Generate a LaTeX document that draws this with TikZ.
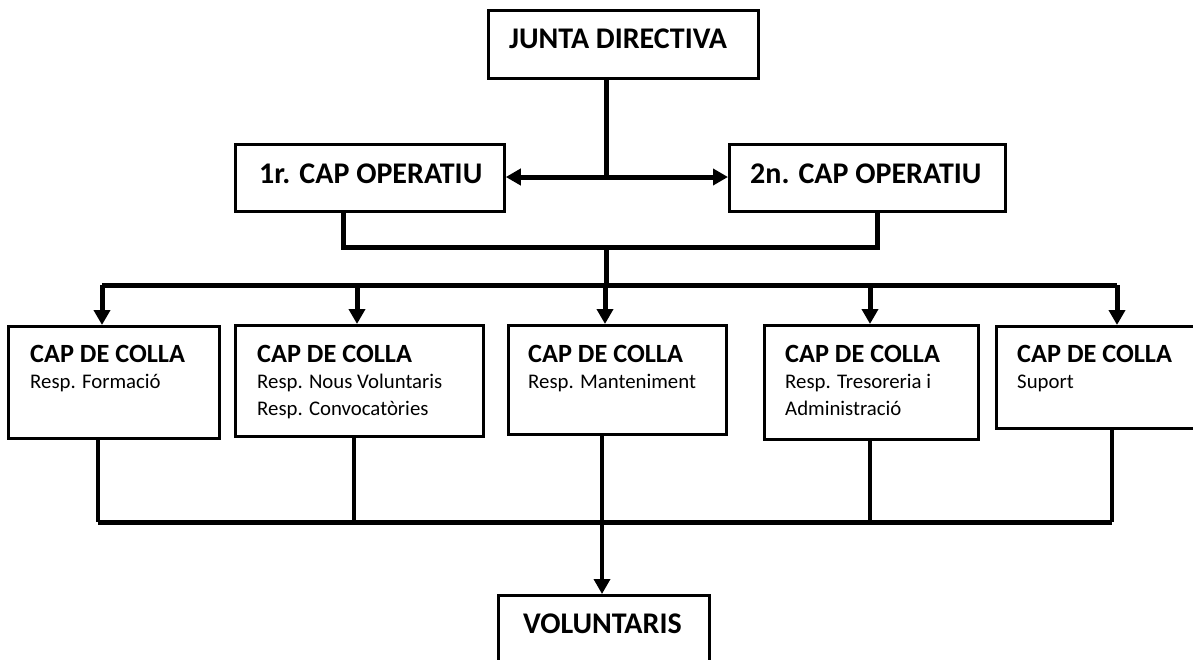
\documentclass[tikz,border=0pt]{standalone}
\usepackage{fontspec}
\setmainfont{Carlito}
\usetikzlibrary{arrows.meta}
\tikzset{
  box/.style={draw=black, line width=2.8pt, fill=white, inner sep=0pt, anchor=north west},
  big/.style={font=\fontsize{30}{32}\selectfont\bfseries, anchor=base west, inner sep=0pt},
  hd/.style={font=\fontsize{26.3}{27}\selectfont\bfseries, anchor=base west, inner sep=0pt},
  sub/.style={font=\fontsize{20.8}{27}\selectfont, anchor=base west, inner sep=0pt},
  conn/.style={line width=5pt},
  thin conn/.style={line width=3.5pt},
  tip/.tip={Triangle[length=15pt,width=16pt]},
}
\begin{document}
\begin{tikzpicture}[x=1pt,y=-1pt]
\clip (0,0) rectangle (1193,659);
\fill[white] (0,0) rectangle (1193,659);
% boxes
\node[box, minimum width=270pt, minimum height=68pt] (j) at (487,9) {};
\node[box, minimum width=269pt, minimum height=67pt] (op1) at (234,143) {};
\node[box, minimum width=276pt, minimum height=67pt] (op2) at (728,143) {};
\node[box, minimum width=211pt, minimum height=112pt] (c1) at (7,325) {};
\node[box, minimum width=248pt, minimum height=111pt] (c2) at (234,324) {};
\node[box, minimum width=218pt, minimum height=109pt] (c3) at (507,324) {};
\node[box, minimum width=214pt, minimum height=114pt] (c4) at (763,324) {};
\node[box, minimum width=220pt, minimum height=102pt] (c5) at (995,325) {};
\node[box, minimum width=211pt, minimum height=90pt] (v) at (497,594) {};
% texts
\node[big] (jt) at (509,48) {JUNTA DIRECTIVA};
\node[big] (o1t) at (259,183) {1r. CAP OPERATIU};
\node[big] (o2t) at (750,183) {2n. CAP OPERATIU};
\node[hd] (c1t) at (30,362) {CAP DE COLLA};
\node[sub] (c1s) at (30,388) {Resp. Formació};
\node[hd] (c2t) at (257,362) {CAP DE COLLA};
\node[sub] (c2s) at (257,388) {Resp. Nous Voluntaris};
\node[sub] (c2s2) at (257,415) {Resp. Convocatòries};
\node[hd] (c3t) at (528,362) {CAP DE COLLA};
\node[sub] (c3s) at (528,388) {Resp. Manteniment};
\node[hd] (c4t) at (785,362) {CAP DE COLLA};
\node[sub] (c4s) at (785,388) {Resp. Tresoreria i};
\node[sub] (c4s2) at (785,415) {Administració};
\node[hd] (c5t) at (1017,362) {CAP DE COLLA};
\node[sub] (c5s) at (1017,388) {Suport};
\node[big] (vt) at (523,633) {VOLUNTARIS};
% coordinates
\coordinate (jb) at (606,177);
\coordinate (o1b) at (343,247);
\coordinate (o2b) at (877,247);
\coordinate (jn) at (606,247);
\coordinate (br) at (606,285);
\coordinate (a1) at (102,285);
\coordinate (a2) at (357,285);
\coordinate (a3) at (605,285);
\coordinate (a4) at (870,285);
\coordinate (a5) at (1117,285);
\coordinate (b1) at (98,522);
\coordinate (b2) at (354,522);
\coordinate (b3) at (602,522);
\coordinate (b4) at (870,522);
\coordinate (b5) at (1112,522);
% top connectors
\draw[conn] (j.south -| jb) -- (jb);
\draw[conn, tip-tip] (op1.east |- jb) -- (op2.west |- jb);
\draw[conn] (op1.south -| o1b) -- (o1b) -- (o2b) -- (op2.south -| o2b);
\draw[conn] (jn) -- (br);
\draw[conn] (a1) -- (a5);
\draw[conn, -tip] (a1) -- (c1.north -| a1);
\draw[conn, -tip] (a2) -- (c2.north -| a2);
\draw[conn, -tip] (a3) -- (c3.north -| a3);
\draw[conn, -tip] (a4) -- (c4.north -| a4);
\draw[conn, -tip] (a5) -- (c5.north -| a5);
% bottom connectors
\draw[thin conn] (c1.south -| b1) -- (b1);
\draw[thin conn] (c2.south -| b2) -- (b2);
\draw[thin conn] (c4.south -| b4) -- (b4);
\draw[thin conn] (c5.south -| b5) -- (b5);
\draw[conn] (b1) -- (b5);
\draw[thin conn, -tip] (c3.south -| b3) -- (v.north -| b3);
\end{tikzpicture}
\end{document}
